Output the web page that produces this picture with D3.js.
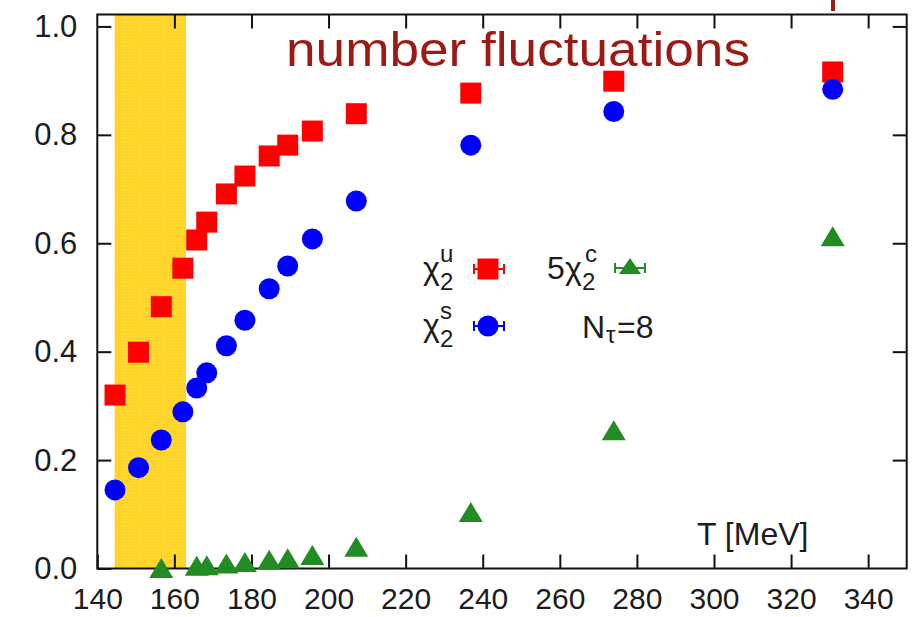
<!DOCTYPE html>
<html>
<head>
<meta charset="utf-8">
<script src="https://cdn.jsdelivr.net/npm/d3@7"></script>
<style>
  html, body { margin: 0; padding: 0; background: #fff; }
  svg { display: block; }
  text { font-family: "Liberation Sans", Arial, Helvetica, sans-serif; fill: #1c1c1c; }
</style>
</head>
<body>
<svg id="chart" width="924" height="617"></svg>
<script>
// Temperatures (MeV) of the lattice ensembles, N_tau = 8
const temps = [144.6, 150.7, 156.6, 162.2, 165.8, 168.4, 173.5, 178.3, 184.6, 189.4, 195.8, 207.2, 236.9, 274.0, 330.8];
// Light-quark (u) number susceptibility
const chi2u = [0.320, 0.399, 0.483, 0.554, 0.606, 0.639, 0.691, 0.724, 0.761, 0.781, 0.807, 0.839, 0.877, 0.899, 0.916];
// Strange-quark number susceptibility
const chi2s = [0.145, 0.186, 0.237, 0.289, 0.333, 0.361, 0.411, 0.458, 0.516, 0.558, 0.608, 0.678, 0.781, 0.843, 0.884];
// Charm-quark susceptibility, scaled by 5
const tempsC = [156.6, 165.8, 168.4, 173.5, 178.3, 184.6, 189.4, 195.8, 207.2, 236.9, 274.0, 330.8];
const chi2c5 = [0.001, 0.005, 0.006, 0.009, 0.012, 0.016, 0.019, 0.025, 0.040, 0.104, 0.255, 0.613];
// Crossover region
const crossover = [144.5, 163.0];
// Axis ticks
const xTicks = [140, 160, 180, 200, 220, 240, 260, 280, 300, 320, 340];
const yTicks = [0.0, 0.2, 0.4, 0.6, 0.8, 1.0];

const svg = d3.select("#chart");
const pL = 97.3, pR = 906.7, pT = 14.5, pB = 568.5;
const x = d3.scaleLinear().domain([140, 350]).range([pL, pR]);
const y = d3.scaleLinear().domain([0, 1.022]).range([pB, pT]);

// Dotted texture for the crossover band
const defs = svg.append("defs");
const pat = defs.append("pattern").attr("id", "band").attr("patternUnits", "userSpaceOnUse")
  .attr("width", 3).attr("height", 3);
pat.append("rect").attr("width", 3).attr("height", 3).attr("fill", "#ffd21c");
pat.append("rect").attr("x", 0).attr("y", 0).attr("width", 1).attr("height", 1).attr("fill", "#ffe46a");
pat.append("rect").attr("x", 1.5).attr("y", 1.5).attr("width", 1).attr("height", 1).attr("fill", "#ffe05a");

svg.append("rect")
  .attr("x", x(crossover[0])).attr("y", pT)
  .attr("width", x(crossover[1]) - x(crossover[0])).attr("height", pB - pT)
  .attr("fill", "url(#band)");

// Axes with inward ticks, mirrored on top and right
const tickLen = 14;
const fmtY = d3.format(".1f");
const gx = svg.append("g").attr("transform", `translate(0,${pB})`)
  .call(d3.axisBottom(x).tickValues(xTicks).tickFormat(d3.format("d")).tickSizeInner(-tickLen).tickSizeOuter(0).tickPadding(20));
const gy = svg.append("g").attr("transform", `translate(${pL},0)`)
  .call(d3.axisLeft(y).tickValues(yTicks).tickFormat(fmtY).tickSizeInner(-tickLen).tickSizeOuter(0).tickPadding(20));
const gt = svg.append("g").attr("transform", `translate(0,${pT})`)
  .call(d3.axisTop(x).tickValues(xTicks.slice(1)).tickFormat("").tickSizeInner(-tickLen).tickSizeOuter(0));
const gr = svg.append("g").attr("transform", `translate(${pR},0)`)
  .call(d3.axisRight(y).tickValues(yTicks.slice(1)).tickFormat("").tickSizeInner(-tickLen).tickSizeOuter(0));
[gx, gy, gt, gr].forEach(g => {
  g.select(".domain").remove();
  g.selectAll(".tick line").attr("stroke", "#111").attr("stroke-width", 2);
  g.selectAll(".tick text").attr("font-size", 31).attr("fill", "#1c1c1c")
    .attr("font-family", '"Liberation Sans", Arial, sans-serif');
});
gx.selectAll(".tick text").attr("font-size", 30).attr("dy", "0.68em");

// Plot frame
svg.append("rect")
  .attr("x", pL).attr("y", pT).attr("width", pR - pL).attr("height", pB - pT)
  .attr("fill", "none").attr("stroke", "#111").attr("stroke-width", 2);

// Marker shapes
const sq = 21, rad = 10.5, triW = 24, triH = 20;
const triPath = (w, h) => `M0,${-h / 2}L${w / 2},${h / 2}L${-w / 2},${h / 2}Z`;

// chi2^u squares
svg.append("g").selectAll("rect").data(temps.map((t, i) => [t, chi2u[i]])).join("rect")
  .attr("x", d => x(d[0]) - sq / 2).attr("y", d => y(d[1]) - sq / 2)
  .attr("width", sq).attr("height", sq).attr("fill", "#ff0000");

// chi2^s circles
svg.append("g").selectAll("circle").data(temps.map((t, i) => [t, chi2s[i]])).join("circle")
  .attr("cx", d => x(d[0])).attr("cy", d => y(d[1])).attr("r", rad).attr("fill", "#0000ff");

// 5 chi2^c triangles
svg.append("g").selectAll("path").data(tempsC.map((t, i) => [t, chi2c5[i]])).join("path")
  .attr("d", triPath(triW, triH))
  .attr("transform", d => `translate(${x(d[0])},${y(d[1])})`)
  .attr("fill", "#228b22");

// Legend samples (point with horizontal error bar)
function sample(cx, cy, color) {
  const g = svg.append("g").attr("stroke", color).attr("stroke-width", 2);
  g.append("line").attr("x1", cx - 15).attr("x2", cx + 15).attr("y1", cy).attr("y2", cy);
  g.append("line").attr("x1", cx - 15).attr("x2", cx - 15).attr("y1", cy - 5).attr("y2", cy + 5);
  g.append("line").attr("x1", cx + 15).attr("x2", cx + 15).attr("y1", cy - 5).attr("y2", cy + 5);
  return g;
}
sample(489, 269, "#ff0000");
svg.append("rect").attr("x", 488 - sq / 2).attr("y", 269 - sq / 2).attr("width", sq).attr("height", sq).attr("fill", "#ff0000");
sample(489, 326, "#0000ff");
svg.append("circle").attr("cx", 488).attr("cy", 326).attr("r", rad).attr("fill", "#0000ff");
sample(630, 268, "#228b22");
svg.append("path").attr("d", triPath(22, 16)).attr("transform", "translate(630,266)").attr("fill", "#228b22");

// Legend labels
function lbl(tx, ty, str, size, family) {
  return svg.append("text").attr("x", tx).attr("y", ty).attr("font-size", size)
    .attr("font-family", family || '"Liberation Sans", Arial, sans-serif').text(str);
}
lbl(423, 279, "χ", 32);
lbl(440, 290, "2", 24);
lbl(440, 262, "u", 24);
lbl(423, 336, "χ", 32);
lbl(440, 347, "2", 24);
lbl(440, 319, "s", 24);
lbl(547, 279, "5", 32);
lbl(565, 279, "χ", 32);
lbl(582, 290, "2", 24);
lbl(585, 262, "c", 24);
lbl(582, 338, "N", 32);
lbl(606, 343, "τ", 24);
lbl(617, 338, "=8", 32);

// Axis title inside the frame
lbl(697, 545, "T [MeV]", 32);

// Panel heading
svg.append("text").attr("x", 286).attr("y", 66)
  .attr("font-family", "Lato, 'Open Sans', sans-serif").attr("font-size", 48)
  .style("fill", "#9b1b14")
  .attr("textLength", 464).attr("lengthAdjust", "spacingAndGlyphs")
  .text("number fluctuations");
// Stroke of the page heading above, clipped at the top edge
svg.append("rect").attr("x", 831).attr("y", 0).attr("width", 4).attr("height", 11)
  .attr("fill", "#9b1b14");
</script>
</body>
</html>
